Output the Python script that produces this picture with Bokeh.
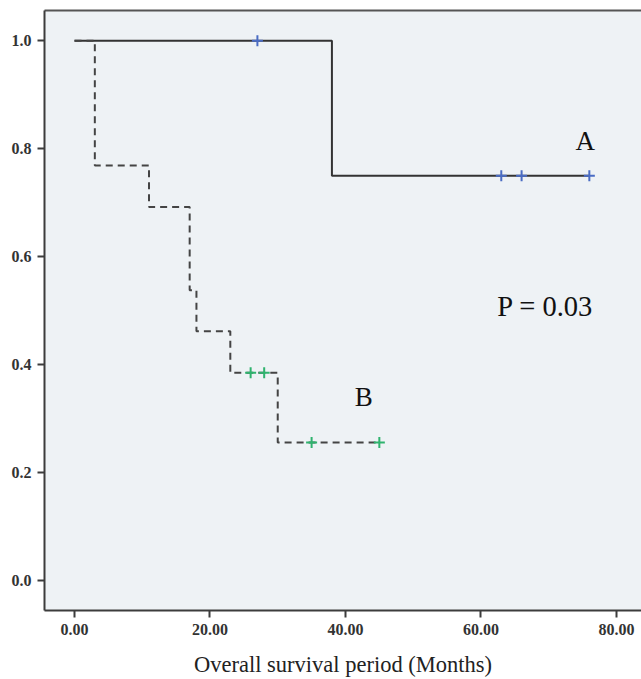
from bokeh.plotting import figure
from bokeh.models import Range1d, FixedTicker, LinearAxis, Label
from bokeh.embed import file_html
from bokeh.resources import INLINE

# Kaplan-Meier data
a_times = [0, 38, 76]
a_surv = [1.0, 0.75, 0.75]
a_cens_t = [27, 63, 66, 76]
a_cens_s = [1.0, 0.75, 0.75, 0.75]

b_times = [0, 3, 11, 17, 18, 23, 30, 45]
b_surv = [1.0, 0.769, 0.692, 0.538, 0.462, 0.385, 0.256, 0.256]
b_cens_t = [26, 28, 35, 45]
b_cens_s = [0.385, 0.385, 0.256, 0.256]

x_ticks = [0, 20, 40, 60, 80]
x_labels = ["0.00", "20.00", "40.00", "60.00", "80.00"]
y_ticks = [0.0, 0.2, 0.4, 0.6, 0.8, 1.0]
y_labels = ["0.0", "0.2", "0.4", "0.6", "0.8", "1.0"]

SERIF = "Liberation Serif"
AXC = "#3c3c3c"

p = figure(width=641, height=679, output_backend="svg", toolbar_location=None,
           x_range=Range1d(-4.43, 83.7), y_range=Range1d(-0.0549, 1.0558),
           min_border_left=44, min_border_top=10, min_border_right=0, min_border_bottom=20)
p.background_fill_color = "#eef2f5"
p.border_fill_color = "white"
p.outline_line_color = None
p.grid.visible = False

for ax in (p.xaxis[0], p.yaxis[0]):
    ax.axis_line_color = AXC
    ax.axis_line_width = 2
    ax.major_tick_line_color = AXC
    ax.major_tick_line_width = 2
    ax.major_tick_out = 7
    ax.major_tick_in = 0
    ax.minor_tick_line_color = None
    ax.major_label_text_font = SERIF
    ax.major_label_text_font_style = "bold"
    ax.major_label_text_font_size = "16px"
    ax.major_label_text_color = "#333333"
    ax.major_label_standoff = 6

p.xaxis.ticker = FixedTicker(ticks=x_ticks)
p.xaxis.major_label_overrides = {t: l for t, l in zip(x_ticks, x_labels)}
p.yaxis.ticker = FixedTicker(ticks=y_ticks)
p.yaxis.major_label_overrides = {t: l for t, l in zip(y_ticks, y_labels)}

p.xaxis.axis_label = "Overall survival period (Months)"
p.xaxis.axis_label_text_font = SERIF
p.xaxis.axis_label_text_font_style = "normal"
p.xaxis.axis_label_text_font_size = "22.5px"
p.xaxis.axis_label_text_color = "#222222"
p.xaxis.axis_label_standoff = 14

top = LinearAxis(ticker=FixedTicker(ticks=[]), major_label_text_font_size="0px",
                 axis_line_color="#555555", axis_line_width=2,
                 major_tick_line_color=None, minor_tick_line_color=None)
p.add_layout(top, "above")

# curves
p.step(a_times, a_surv, mode="after", line_color="#333333", line_width=2)
p.step(b_times, b_surv, mode="after", line_color="#444444", line_width=2, line_dash="7 5")

p.scatter(a_cens_t, a_cens_s, marker="cross", size=11, line_color="#4a6cc4", line_width=2)
p.scatter(b_cens_t, b_cens_s, marker="cross", size=11, line_color="#2fb36e", line_width=2)

for txt, x, y, fs in [("A", 75.4, 0.814, "27px"), ("B", 42.7, 0.34, "27px"),
                      ("P = 0.03", 69.5, 0.507, "28.5px")]:
    p.add_layout(Label(x=x, y=y, text=txt, text_font=SERIF, text_font_size=fs,
                       text_align="center", text_baseline="alphabetic", text_color="#111111"))

open("out.html", "w").write(file_html(p, INLINE))
